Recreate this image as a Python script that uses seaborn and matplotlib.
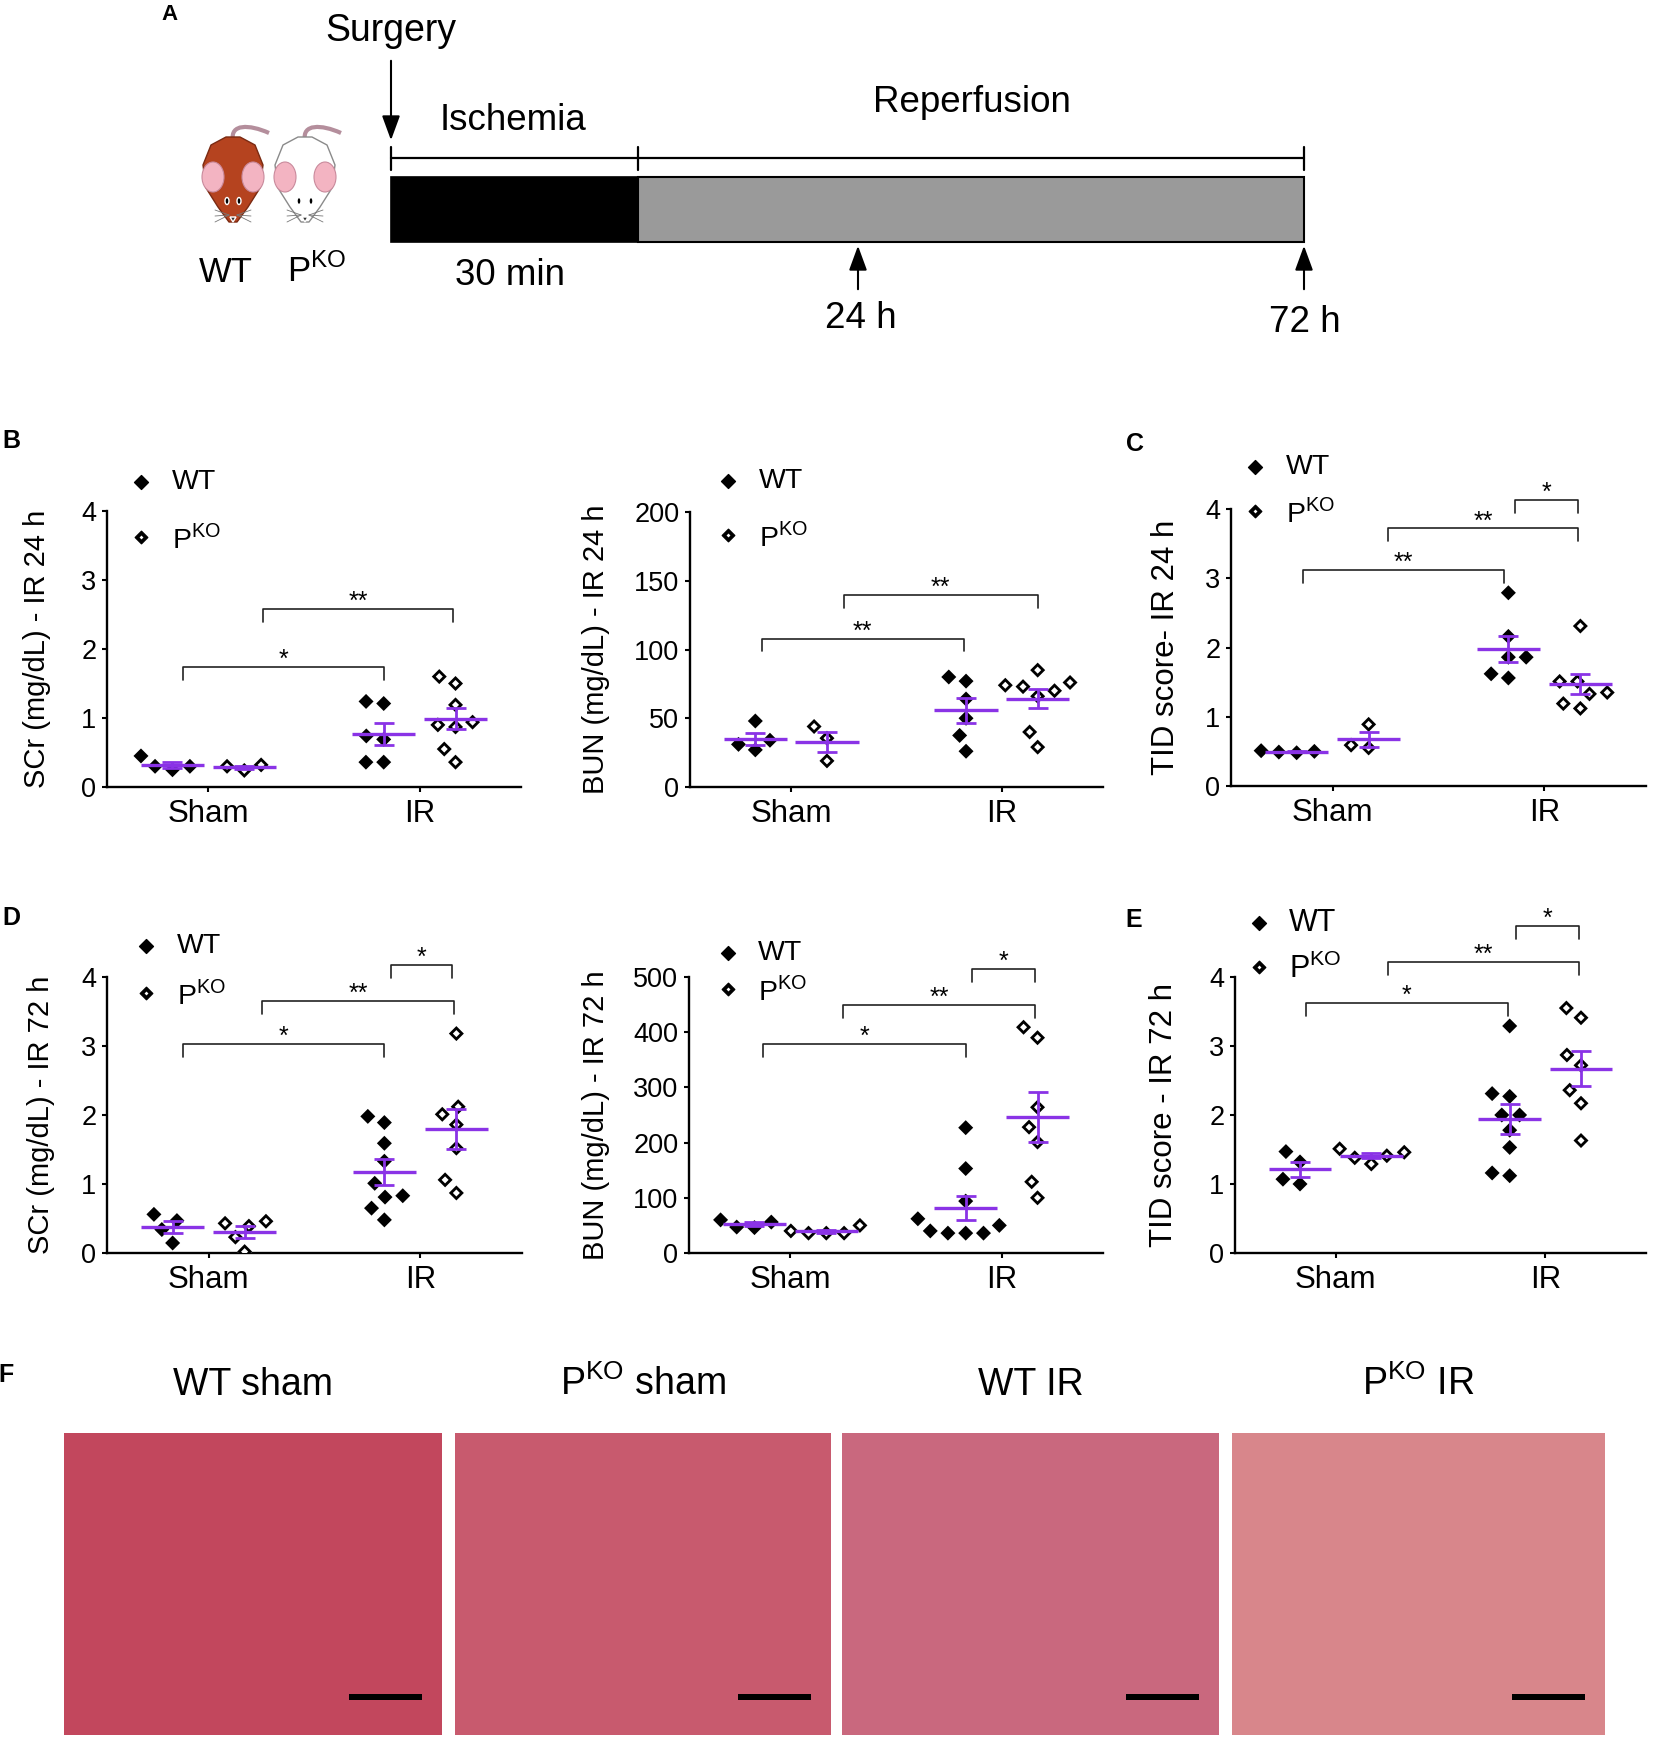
import matplotlib
matplotlib.use("Agg")
import matplotlib.pyplot as plt
import numpy as np
import pandas as pd
import seaborn as sns
from matplotlib.path import Path
from matplotlib.patches import Rectangle, Ellipse, Polygon, PathPatch

W, H, DPI = 1654, 1742, 100

# ---------------- data ----------------
groups = ['Sham', 'IR']
offsets = {'WT': -0.17, 'PKO': 0.17}

scr24_wt_sham = [0.25, 0.45, 0.30, 0.30]
scr24_ko_sham = [0.24, 0.32, 0.30]
scr24_wt_ir = [1.21, 1.24, 0.69, 0.74, 0.36, 0.36]
scr24_ko_ir = [1.60, 1.50, 1.19, 0.90, 0.94, 0.87, 0.55, 0.36]

bun24_wt_sham = [27, 48, 34, 31]
bun24_ko_sham = [44, 35.5, 19]
bun24_wt_ir = [77, 80, 64, 50, 37.5, 26]
bun24_ko_ir = [85, 76, 70, 73, 74, 66, 40, 29]

tid24_wt_sham = [0.48, 0.51, 0.49, 0.50]
tid24_ko_sham = [0.89, 0.55, 0.59]
tid24_wt_ir = [2.79, 2.16, 1.86, 1.86, 1.56, 1.62]
tid24_ko_ir = [2.31, 1.51, 1.51, 1.33, 1.35, 1.12, 1.19]

scr72_wt_sham = [0.47, 0.56, 0.34, 0.145]
scr72_ko_sham = [0.43, 0.46, 0.39, 0.23, 0.02]
scr72_wt_ir = [1.98, 1.89, 1.59, 1.33, 1.01, 0.81, 0.83, 0.65, 0.48]
scr72_ko_ir = [3.18, 2.12, 2.01, 1.86, 1.52, 1.06, 0.87]

bun72_wt_sham = [47, 60, 46, 56]
bun72_ko_sham = [36, 50, 36, 40, 36]
bun72_wt_ir = [227, 153, 94, 62, 36, 50, 36, 40, 36]
bun72_ko_ir = [409, 390, 264, 228, 201, 129, 100]

tid72_wt_sham = [1.47, 1.00, 1.07, 1.32]
tid72_ko_sham = [1.41, 1.51, 1.38, 1.46, 1.29]
tid72_wt_ir = [3.29, 2.27, 2.31, 2.00, 2.00, 1.78, 1.53, 1.12, 1.16]
tid72_ko_ir = [3.55, 3.41, 2.87, 2.72, 2.36, 2.17, 1.63]

# significance brackets: (x from, x to, height, label)
br_scr24 = [(-0.12, 0.83, 1.74, '*'), (0.26, 1.16, 2.58, '**')]
br_bun24 = [(-0.14, 0.82, 108, '**'), (0.25, 1.17, 139.5, '**')]
br_tid24 = [(-0.14, 0.81, 3.12, '**'), (0.26, 1.16, 3.72, '**'), (0.86, 1.16, 4.125, '*')]
br_scr72 = [(-0.12, 0.83, 3.03, '*'), (0.25, 1.16, 3.65, '**'), (0.86, 1.15, 4.18, '*')]
br_bun72 = [(-0.13, 0.83, 378, '*'), (0.25, 1.16, 450, '**'), (0.86, 1.16, 515, '*')]
br_tid72 = [(-0.14, 0.82, 3.63, '*'), (0.25, 1.16, 4.22, '**'), (0.86, 1.16, 4.74, '*')]

histo_titles = ['WT sham', r'P$^{\mathregular{KO}}$ sham', 'WT IR', r'P$^{\mathregular{KO}}$ IR']
histo_colors = ['#c2475d', '#c85a6e', '#c9687e', '#d8868b']

PURPLE = '#8a33e6'
KO = r'P$^{\mathregular{KO}}$'

# ---------------- style ----------------
sns.set_style('ticks', {'axes.edgecolor': 'black', 'xtick.color': 'black',
                        'ytick.color': 'black', 'text.color': 'black',
                        'axes.labelcolor': 'black'})
plt.rcParams['font.family'] = ['Liberation Sans', 'DejaVu Sans']
plt.rcParams['mathtext.fontset'] = 'custom'
plt.rcParams['mathtext.rm'] = 'Liberation Sans'

fig = plt.figure(figsize=(W / DPI, H / DPI), dpi=DPI)


def add_axes_px(left, top, right, bottom):
    return fig.add_axes([left / W, 1 - bottom / H, (right - left) / W, (bottom - top) / H])


# diamond markers (path markers: diagonal == marker size)
diamond = Path([(0, 1), (1, 0), (0, -1), (-1, 0), (0, 1)],
               [Path.MOVETO, Path.LINETO, Path.LINETO, Path.LINETO, Path.CLOSEPOLY])
k = 0.47
ring = Path([(0, 1), (1, 0), (0, -1), (-1, 0), (0, 1),
             (0, k), (-k, 0), (0, -k), (k, 0), (0, k)],
            [Path.MOVETO, Path.LINETO, Path.LINETO, Path.LINETO, Path.CLOSEPOLY] * 2)

MSIZE = 10.8
SWARM_PAD = 1.4   # invisible edge width, widens the swarm spacing


def long_df(sham, ir, geno):
    rows = []
    for gi, vals in enumerate([sham, ir]):
        for v in vals:
            rows.append({'group': groups[gi], 'pos': gi + offsets[geno], 'value': v})
    return pd.DataFrame(rows)


def draw_panel(ax, wt_sham, ko_sham, wt_ir, ko_ir, ymax, ystep, ylabel, ylab_x,
               ylab_size, brackets):
    df_wt = long_df(wt_sham, wt_ir, 'WT')
    df_ko = long_df(ko_sham, ko_ir, 'PKO')
    common = dict(x='pos', y='value', native_scale=True, orient='x', ax=ax,
                  size=MSIZE, edgecolor='none', linewidth=SWARM_PAD)
    sns.swarmplot(data=df_wt, marker=diamond, color='black', **common)
    sns.swarmplot(data=df_ko, marker=diamond, color='white', **common)
    sns.swarmplot(data=df_ko, marker=ring, color='black', **common)

    # mean +/- SEM
    for df in (df_wt, df_ko):
        stats = df.groupby('pos')['value'].agg(['mean', 'std', 'count'])
        sem = stats['std'] / np.sqrt(stats['count'])
        ax.errorbar(stats.index, stats['mean'], yerr=sem, fmt='none', ecolor=PURPLE,
                    elinewidth=2.0, capsize=7, capthick=2.0, zorder=6)
        ax.hlines(stats['mean'], stats.index - 0.15, stats.index + 0.15, color=PURPLE,
                  lw=2.4, zorder=6)

    ax.set_xlim(-0.48, 1.48)
    ax.set_ylim(0, ymax)
    ax.set_yticks(np.arange(0, ymax + ystep / 2, ystep))
    ax.set_xticks([0, 1])
    ax.set_xticklabels(groups)
    ax.set_xlabel('')
    ax.set_ylabel(ylabel, fontsize=ylab_size)
    ax.yaxis.label.set_va('center')
    pos = ax.get_position()
    ax.yaxis.set_label_coords((ylab_x / W - pos.x0) / pos.width, 0.5)
    sns.despine(ax=ax)
    for s in ('left', 'bottom'):
        ax.spines[s].set_linewidth(1.7)
    ax.patch.set_alpha(0)
    ax.tick_params(axis='y', length=3.6, width=1.5, labelsize=19.5, pad=4)
    ax.tick_params(axis='x', length=3.6, width=1.5, labelsize=22.5, pad=5)

    drop = 0.047 * ymax
    for x1, x2, y, lab in brackets:
        ax.plot([x1, x1, x2, x2], [y - drop, y, y, y - drop], color='#222222', lw=1.2,
                clip_on=False, zorder=2)
        ax.annotate(lab, xy=((x1 + x2) / 2, y), xytext=(0, 0), textcoords='offset points',
                    ha='center', va='baseline', fontsize=18, annotation_clip=False)


panel_specs = [
    ((107, 511, 521, 787), (scr24_wt_sham, scr24_ko_sham, scr24_wt_ir, scr24_ko_ir),
     4, 1, 'SCr (mg/dL) - IR 24 h', 37, 21, br_scr24),
    ((690, 512, 1103, 787), (bun24_wt_sham, bun24_ko_sham, bun24_wt_ir, bun24_ko_ir),
     200, 50, 'BUN (mg/dL) - IR 24 h', 596, 21, br_bun24),
    ((1231, 509, 1646, 786), (tid24_wt_sham, tid24_ko_sham, tid24_wt_ir, tid24_ko_ir),
     4, 1, 'TID score- IR 24 h', 1166, 22.5, br_tid24),
    ((107, 977, 522, 1253), (scr72_wt_sham, scr72_ko_sham, scr72_wt_ir, scr72_ko_ir),
     4, 1, 'SCr (mg/dL) - IR 72 h', 41, 21, br_scr72),
    ((689, 977, 1103, 1253), (bun72_wt_sham, bun72_ko_sham, bun72_wt_ir, bun72_ko_ir),
     500, 100, 'BUN (mg/dL) - IR 72 h', 596, 21, br_bun72),
    ((1235, 977, 1646, 1253), (tid72_wt_sham, tid72_ko_sham, tid72_wt_ir, tid72_ko_ir),
     4, 1, 'TID score - IR 72 h', 1164, 22.5, br_tid72),
]

for rect, series, ymax, ystep, ylabel, ylab_x, ylab_size, br in panel_specs:
    ax = add_axes_px(*rect)
    draw_panel(ax, *series, ymax, ystep, ylabel, ylab_x, ylab_size, br)

# ---------------- overlay in pixel coordinates ----------------
ov = fig.add_axes([0, 0, 1, 1], zorder=10)
ov.set_xlim(0, W)
ov.set_ylim(H, 0)
ov.axis('off')
ov.patch.set_alpha(0)

# legends: (marker x, WT y, PKO y, text x, font size)
legends = [(141, 482, 537, 172, 20.5), (728, 481, 535, 759, 20.5), (1255, 467, 511, 1286, 20.5),
           (146, 946, 993, 177, 20.5), (728, 953, 989, 758, 20.5), (1259, 923, 967, 1289, 22)]
for mx, y_wt, y_ko, tx, fs in legends:
    ov.plot([mx], [y_wt], marker=diamond, ms=10, color='black', ls='none')
    ov.plot([mx], [y_ko], marker=diamond, ms=9, color='white', ls='none')
    ov.plot([mx], [y_ko], marker=ring, ms=9, color='black', ls='none')
    ov.text(tx, y_wt, 'WT', fontsize=fs, va='center', ha='left')
    ov.text(tx, y_ko + 2, KO, fontsize=fs, va='center', ha='left')

# panel letters
for lab, x, y, fs in [('A', 170, 15, 16), ('B', 11, 441, 18), ('C', 1135, 444, 18),
                      ('D', 11, 918, 18), ('E', 1134, 920, 18), ('F', 6, 1375, 18)]:
    ov.text(x, y, lab, fontsize=fs, fontweight='bold', ha='center', va='center')

# ---------------- panel A: timeline schematic ----------------
t0, t_isch, t_end = 391, 638, 1304
ov.plot([t0, t_end], [158, 158], color='black', lw=1.6)
for xt in (t0, t_isch, t_end):
    ov.plot([xt, xt], [147, 170], color='black', lw=1.6)
ov.add_patch(Rectangle((t0, 177), t_isch - t0, 65, facecolor='black', edgecolor='black', lw=1.2))
ov.add_patch(Rectangle((t_isch, 177), t_end - t_isch, 65, facecolor='#9a9a9a',
                       edgecolor='black', lw=1.5))
arrow_style = dict(arrowstyle='-|>,head_length=1.5,head_width=0.55', color='black', lw=1.5)
ov.annotate('', xy=(t0, 143), xytext=(t0, 58), arrowprops=arrow_style)
for xa in (858, t_end):
    ov.annotate('', xy=(xa, 243), xytext=(xa, 292), arrowprops=arrow_style)

for txt, x, y, fs in [('Surgery', 391, 41, 27), ('Ischemia', 513, 130, 26.5),
                      ('Reperfusion', 972, 112, 26.5), ('30 min', 510, 285, 26.5),
                      ('24 h', 861, 328, 26.5), ('72 h', 1305, 332, 26.5)]:
    ov.text(x, y, txt, fontsize=fs, ha='center', va='baseline')
ov.text(226, 282, 'WT', fontsize=25, ha='center', va='baseline')
ov.text(317, 282, KO, fontsize=25, ha='center', va='baseline')


def mouse(cx, body, edge):
    tail = Path([(cx, 140), (cx - 3, 124), (cx + 16, 124), (cx + 36, 133)],
                [Path.MOVETO, Path.CURVE4, Path.CURVE4, Path.CURVE4])
    ov.add_patch(PathPatch(tail, facecolor='none', edgecolor='#b48e9c', lw=3))
    outline = [(cx - 7, 137), (cx + 7, 137), (cx + 22, 145), (cx + 30, 165), (cx + 27, 188),
               (cx + 15, 207), (cx + 4, 222), (cx - 4, 222), (cx - 15, 207), (cx - 27, 188),
               (cx - 30, 165), (cx - 22, 145)]
    ov.add_patch(Polygon(outline, closed=True, facecolor=body, edgecolor=edge, lw=1.0,
                         joinstyle='round'))
    for side in (-1, 1):
        ov.add_patch(Ellipse((cx + side * 20, 177), 22, 30, facecolor='#f3b4c2',
                             edgecolor='#c98a9c', lw=0.8))
        ov.add_patch(Ellipse((cx + side * 6, 201), 4, 7, facecolor='black'))
        for dy in (-5, 1, 7):
            ov.plot([cx + side * 4, cx + side * 18], [215, 215 + dy], color='#777777', lw=0.6)
    ov.add_patch(Polygon([(cx - 3, 217), (cx + 3, 217), (cx, 222)], facecolor='#333333'))


mouse(233, '#b5431f', '#7a2a12')
mouse(305, 'white', '#8a8a8a')

# ---------------- panel F: histology frames ----------------
frames = [(64, 442), (455, 831), (842, 1219), (1232, 1605)]
for (x0, x1), title, col in zip(frames, histo_titles, histo_colors):
    ov.add_patch(Rectangle((x0, 1433), x1 - x0, 302, facecolor=col, edgecolor='none'))
    ov.add_patch(Rectangle((x1 - 93, 1694), 73, 6, facecolor='black', edgecolor='none'))
    ov.text((x0 + x1) / 2, 1395, title, fontsize=27, ha='center', va='baseline')

fig.savefig('out.png', dpi=DPI)
